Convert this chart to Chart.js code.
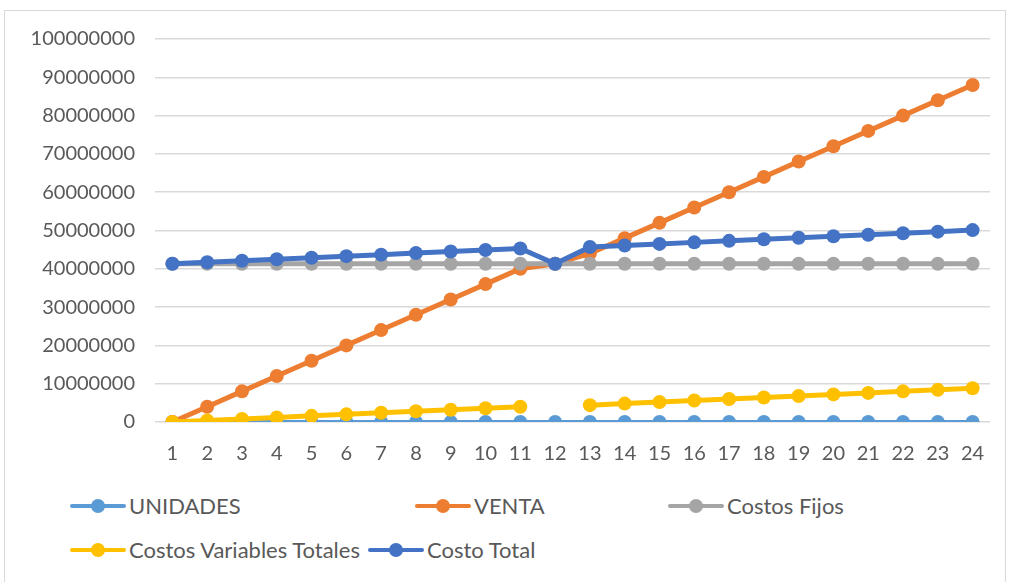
<!DOCTYPE html>
<html>
<head>
<meta charset="utf-8">
<script src="https://cdn.jsdelivr.net/npm/chart.js@4.4.1/dist/chart.umd.min.js"></script>
<style>
  body { margin: 0; background: #fff; width: 1010px; height: 582px; overflow: hidden; position: relative; font-family: Lato, "Open Sans", sans-serif; }
  #frame { position: absolute; left: 4px; top: 10px; width: 1002px; height: 600px; border: 1px solid #d9d9d9; box-sizing: border-box; }
  #wrap { position: absolute; left: 0; top: 0; width: 1010px; height: 480px; }
  .leg { position: absolute; display: flex; align-items: center; font-size: 22px; color: #595959; white-space: nowrap; }
  .mk { position: relative; width: 56px; height: 14px; margin-right: 3px; }
  .mk .ln { position: absolute; left: 0; right: 0; top: 5px; height: 4.5px; border-radius: 2px; }
  .mk .dt { position: absolute; left: 21px; top: 0; width: 14px; height: 14px; border-radius: 50%; }
</style>
</head>
<body>
<div id="frame"></div>
<div id="wrap"><canvas id="chart"></canvas></div>
<div id="legend"></div>
<script>
// categories (periods)
const labels = ['1','2','3','4','5','6','7','8','9','10','11','12','13','14','15','16','17','18','19','20','21','22','23','24'];

// series values
const unidades = [0,100,200,300,400,500,600,700,800,900,1000,1033,1100,1200,1300,1400,1500,1600,1700,1800,1900,2000,2100,2200];
const venta = [0,4000000,8000000,12000000,16000000,20000000,24000000,28000000,32000000,36000000,40000000,41300000,
  44000000,48000000,52000000,56000000,60000000,64000000,68000000,72000000,76000000,80000000,84000000,88000000];
const costosFijos = Array(24).fill(41300000);
const costosVariables = [0,400000,800000,1200000,1600000,2000000,2400000,2800000,3200000,3600000,4000000,null,
  4400000,4800000,5200000,5600000,6000000,6400000,6800000,7200000,7600000,8000000,8400000,8800000];
const costoTotal = [41300000,41700000,42100000,42500000,42900000,43300000,43700000,44100000,44500000,44900000,45300000,41300000,
  45700000,46100000,46500000,46900000,47300000,47700000,48100000,48500000,48900000,49300000,49700000,50100000];

// y ticks
const yMax = 100000000;
const yStep = 10000000;

const series = [
    { label: 'UNIDADES', data: unidades, color: '#5B9BD5', width: 4 },
    { label: 'VENTA', data: venta, color: '#ED7D31', width: 5 },
    { label: 'Costos Fijos', data: costosFijos, color: '#A5A5A5', width: 5 },
    { label: 'Costos Variables Totales', data: costosVariables, color: '#FFC000', width: 5 },
    { label: 'Costo Total', data: costoTotal, color: '#4472C4', width: 5 }
];

const datasets = series.map(function(s, i) {
    return {
        label: s.label,
        data: s.data,
        borderColor: s.color,
        backgroundColor: s.color,
        borderWidth: s.width,
        pointRadius: 7,
        pointBorderWidth: 0,
        pointHoverRadius: 7,
        tension: 0,
        spanGaps: false,
        order: series.length - i  // later series on top, like Excel
    };
});

const font = { family: 'Lato, "Open Sans", sans-serif', size: 20 };

new Chart(document.getElementById('chart'), {
    type: 'line',
    data: { labels: labels, datasets: datasets },
    options: {
        responsive: true,
        maintainAspectRatio: false,
        animation: false,
        layout: { padding: { top: 39, right: 20, left: 0, bottom: 0 } },
        plugins: {
            legend: { display: false },
            tooltip: { enabled: false }
        },
        scales: {
            x: {
                offset: true,
                grid: { display: false, drawTicks: false },
                border: { display: false },
                ticks: { color: '#595959', font: font, padding: 20, maxRotation: 0, autoSkip: false },
                afterFit: function(scale) { scale.height = 58; }
            },
            y: {
                min: 0,
                max: yMax,
                grid: { color: '#d9d9d9', lineWidth: 1.5, drawTicks: false },
                border: { display: false },
                ticks: {
                    stepSize: yStep, color: '#595959', font: font, padding: 20,
                    callback: function(value) { return String(value); }
                },
                afterFit: function(scale) { scale.width = 155; }
            }
        }
    }
});

// Legend laid out like the Excel one
const legendPos = [[70, 506], [415, 506], [668, 506], [70, 550], [368, 550]];
const legendEl = document.getElementById('legend');
series.forEach(function(s, i) {
    const item = document.createElement('div');
    item.className = 'leg';
    item.style.left = legendPos[i][0] + 'px';
    item.style.top = (legendPos[i][1] - 14) + 'px';
    item.innerHTML = '<span class="mk"><span class="ln" style="background:' + s.color + '"></span>' +
        '<span class="dt" style="background:' + s.color + '"></span></span>' + s.label;
    legendEl.appendChild(item);
});
</script>
</body>
</html>
